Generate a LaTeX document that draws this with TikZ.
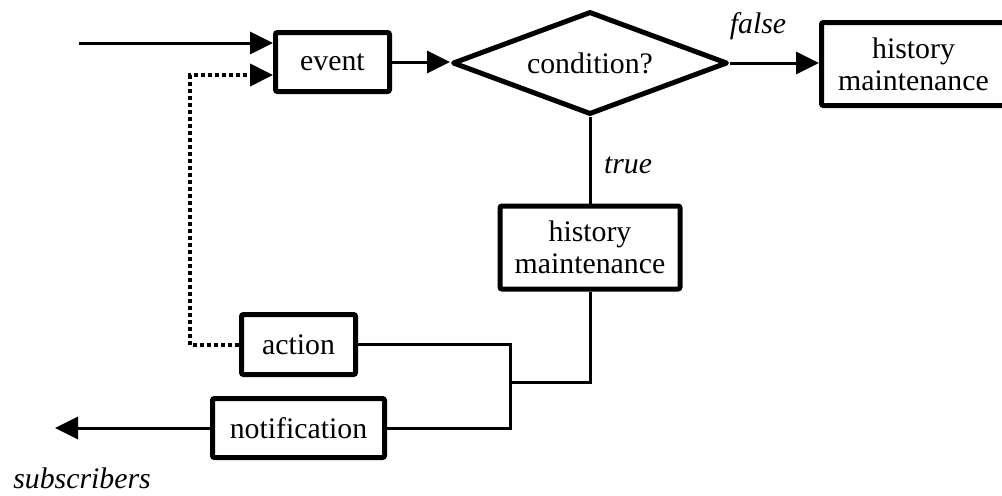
\documentclass[tikz,border=0pt]{standalone}
\usepackage{fontspec}
\setmainfont{Liberation Serif}
\usetikzlibrary{arrows.meta,shapes.geometric}
\begin{document}
\begin{tikzpicture}[x=0.5pt,y=-0.5pt,
  txt/.style={font=\fontsize{14.9}{16}\selectfont},
  box/.style={txt,draw,line width=2.5pt,rounded corners=1pt,inner sep=0pt,align=center},
  twoline/.style={box,minimum width=90pt,minimum height=41.5pt},
  decision/.style={txt,draw,diamond,aspect=2.6,line width=2.5pt,line join=round,inner sep=0pt,
    minimum width=137.5pt,minimum height=51.5pt},
  flow/.style={line width=1.5pt},
  tip/.style={-{Triangle[length=11.5pt,width=11pt]}},
  arr/.style={flow,tip},
  feedback/.style={line width=2pt,dash pattern=on 2pt off 1.5pt,tip},
  lbl/.style={font=\fontsize{14.9}{16}\selectfont\itshape}]
\useasboundingbox (0,0) rectangle (1002,495);

% blocks
\node[box,minimum width=57pt,minimum height=29.5pt] (event) at (332.5,62) {event};
\node[decision] (cond) at (590,63) {condition?};
\node[twoline,minimum width=92pt] (histF) at (913.5,64) {history\\maintenance};
\node[twoline] (histT) at (590,247.5) {history\\maintenance};
\node[box,minimum width=57pt,minimum height=30pt] (action) at (298.5,344.5) {action};
\node[box,minimum width=86pt,minimum height=29.5pt] (notif) at (298.5,428) {notification};

% branch and sink labels
\node[lbl] (falselbl) at (758,26) {false};
\node[lbl] (truelbl) at (628,165) {true};
\node[lbl] (sublbl) at (82,478) {subscribers};

% free ends and bends
\coordinate (src) at (79,43);
\coordinate (loop) at (190,75);
\coordinate (join) at (510,382);
\coordinate (subs) at (55,428);

% connectors
\draw[arr] (src) -- (src -| event.west);
\draw[feedback] (action.west) -| (loop) -- (loop -| event.west);
\draw[arr] (event.east) -- (event.east -| cond.west);
\draw[arr] (cond.east) -- (cond.east -| histF.west);
\draw[flow] (cond.south) -- (histT.north);
\draw[flow] (histT.south) |- (join);
\draw[flow] (action.east) -| (join |- notif.east) -- (notif.east);
\draw[arr] (notif.west) -- (subs);
\end{tikzpicture}
\end{document}
